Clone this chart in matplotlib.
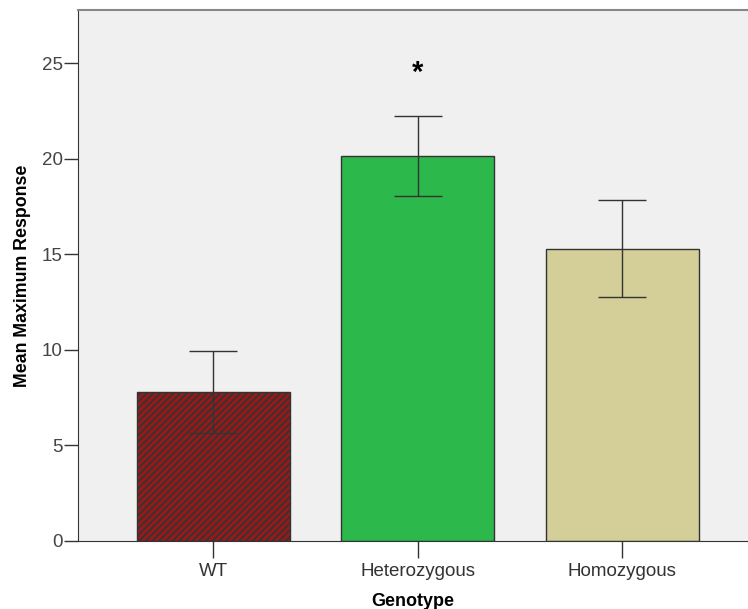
import numpy as np
import matplotlib.pyplot as plt

plt.rcParams['font.family'] = ['Liberation Sans', 'DejaVu Sans']
plt.rcParams['hatch.linewidth'] = 1.3
plt.rcParams['hatch.color'] = '#111111'

genotypes = ["WT", "Heterozygous", "Homozygous"]
means = [7.8, 20.15, 15.3]
err_low = [5.65, 18.05, 12.75]
err_high = [9.95, 22.25, 17.85]
colors = ["#9A1818", "#2DB84B", "#D4CF99"]
hatches = ["/////", None, None]

fig = plt.figure(figsize=(7.48, 6.09), dpi=100)
ax = fig.add_axes([0.1043, 0.1117, 0.8957, 0.8719])
ax.set_facecolor("#F0F0F0")

x = np.arange(len(genotypes))
for i in range(len(genotypes)):
    ax.bar(x[i], means[i], width=0.75, color=colors[i], edgecolor="#333333",
           linewidth=1.0, hatch=hatches[i], zorder=2)

yerr = [np.array(means) - np.array(err_low), np.array(err_high) - np.array(means)]
ax.errorbar(x, means, yerr=yerr, fmt="none", ecolor="#333333", elinewidth=1.0,
            capsize=17, capthick=1.0, zorder=3)

# significance marker above heterozygous bar
ax.text(1, 24.5, "*", ha="center", va="center", fontsize=21, fontweight="bold")

ax.set_xlim(-0.663, 2.616)
ax.set_ylim(0, 27.8)
ax.set_yticks([0, 5, 10, 15, 20, 25])
ax.set_xticks(x)
ax.set_xticklabels(genotypes)

ax.spines["right"].set_visible(False)
ax.spines["top"].set_color("#888888")
ax.spines["top"].set_linewidth(1.5)
for s in ["left", "bottom"]:
    ax.spines[s].set_color("#333333")

ax.tick_params(axis="y", length=10, width=1, color="#333333", labelsize=13.5,
               labelcolor="#444444", pad=1)
ax.tick_params(axis="x", length=12, width=1, color="#333333", labelsize=13.5,
               labelcolor="#333333", pad=4)

ax.set_ylabel("Mean Maximum Response", fontsize=12.8, fontweight="bold", labelpad=8)
ax.set_xlabel("Genotype", fontsize=13, fontweight="bold", labelpad=9)

fig.savefig("out.png", dpi=100)
